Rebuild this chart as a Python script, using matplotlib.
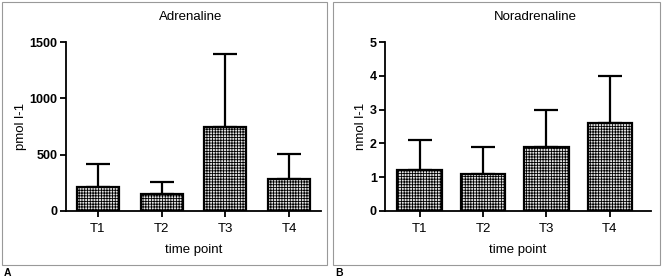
import matplotlib
matplotlib.use("Agg")
import matplotlib.pyplot as plt
from matplotlib.patches import Rectangle

plt.rcParams['font.family'] = ['Liberation Sans', 'DejaVu Sans']
plt.rcParams['hatch.linewidth'] = 0.6
plt.rcParams['hatch.color'] = '#6a6a6a'

categories = ["T1", "T2", "T3", "T4"]
adrenaline = [212, 148, 745, 282]
adrenaline_err = [204, 110, 650, 220]
noradrenaline = [1.2, 1.1, 1.9, 2.6]
noradrenaline_err = [0.9, 0.8, 1.1, 1.4]

fig = plt.figure(figsize=(6.62, 2.78), dpi=100)

# panel frames
fig.patches.append(Rectangle((2/662, 1 - 265/278), 325/662, 263/278, transform=fig.transFigure,
                             fill=False, edgecolor="#999999", linewidth=0.8))
fig.patches.append(Rectangle((333/662, 1 - 265/278), 327/662, 263/278, transform=fig.transFigure,
                             fill=False, edgecolor="#999999", linewidth=0.8))
fig.text(4/662, 1 - 273/278, "A", fontsize=7.5, fontweight="bold", va="center")
fig.text(335/662, 1 - 273/278, "B", fontsize=7.5, fontweight="bold", va="center")

ax1 = fig.add_axes([66/662, 1 - 210.7/278, 255/662, 168.4/278])
ax2 = fig.add_axes([385.3/662, 1 - 210.7/278, 265.7/662, 168.4/278])


def draw(ax, vals, errs, title, tx, ylabel, ylim, yticks, width, xlo, xhi):
    x = range(len(categories))
    ax.bar(x, vals, width=width, color="#e4e4e4", edgecolor="black", linewidth=1.6,
           hatch="++++++", zorder=2)
    ax.errorbar(x, vals, yerr=[[0] * len(errs), errs], fmt="none", ecolor="black",
                elinewidth=1.6, capsize=8.5, capthick=1.6, zorder=1)
    ax.set_xlim(xlo, xhi)
    ax.set_ylim(*ylim)
    ax.set_yticks(yticks)
    ax.set_xticks(list(x))
    ax.set_xticklabels(categories, fontsize=9.5)
    for lab in ax.get_yticklabels():
        lab.set_fontweight("bold")
        lab.set_fontsize(9)
    ax.spines["top"].set_visible(False)
    ax.spines["right"].set_visible(False)
    ax.spines["left"].set_linewidth(1.3)
    ax.spines["bottom"].set_linewidth(1.3)
    ax.tick_params(axis="y", width=1.3, length=4, pad=2)
    ax.tick_params(axis="x", width=1.3, length=4, pad=5)
    ax.set_title(title, fontsize=9.5, x=tx, pad=16)
    ax.set_ylabel(ylabel, fontsize=9.5, labelpad=2)
    ax.set_xlabel("time point", fontsize=9.5, labelpad=6)
    ax.set_facecolor("none")


draw(ax1, adrenaline, adrenaline_err, "Adrenaline", 0.49, "pmol l-1", (0, 1500),
     [0, 500, 1000, 1500], 0.66, -0.5, 3.5)
draw(ax2, noradrenaline, noradrenaline_err, "Noradrenaline", 0.565, "nmol l-1", (0, 5),
     [0, 1, 2, 3, 4, 5], 0.7, -0.54, 3.65)

fig.savefig("out.png", dpi=100)
